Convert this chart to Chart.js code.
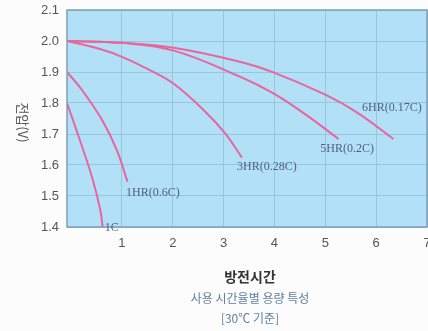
<!DOCTYPE html>
<html>
<head>
<meta charset="utf-8">
<script src="https://cdn.jsdelivr.net/npm/chart.js@4/dist/chart.umd.min.js"></script>
<style>
  html, body { margin: 0; padding: 0; background: #fcfcfc; }
  #wrap { width: 428px; height: 331px; position: relative; }
</style>
</head>
<body>
<div id="wrap"><canvas id="c" width="428" height="331"></canvas></div>
<script>
// ---- data ----
const xTickValues = [1, 2, 3, 4, 5, 6, 7];
const yTickValues = [1.4, 1.5, 1.6, 1.7, 1.8, 1.9, 2.0, 2.1];

const seriesNames = ["1C", "1HR(0.6C)", "3HR(0.28C)", "5HR(0.2C)", "6HR(0.17C)"];

const c1X = [-0.08, 0.15, 0.41, 0.575, 0.62];
const c1Y = [1.80, 1.691, 1.562, 1.455, 1.40];

const hr1X = [-0.08, 0.215, 0.61, 0.90, 1.11];
const hr1Y = [1.90, 1.842, 1.745, 1.648, 1.546];

const hr3X = [-0.08, 0.57, 1.00, 1.55, 2.02, 2.64, 3.03, 3.36];
const hr3Y = [2.00, 1.974, 1.949, 1.906, 1.862, 1.772, 1.702, 1.624];

const hr5X = [-0.08, 1.00, 2.02, 3.32, 3.98, 4.63, 5.26];
const hr5Y = [2.00, 1.994, 1.969, 1.885, 1.831, 1.761, 1.684];

const hr6X = [-0.08, 1.00, 2.02, 3.32, 3.98, 5.01, 5.62, 6.34];
const hr6Y = [2.00, 1.994, 1.978, 1.933, 1.899, 1.826, 1.770, 1.684];

// label anchor positions (data coordinates)
const labelX = [0.80, 1.61, 3.85, 5.43, 6.31];
const labelY = [1.397, 1.510, 1.594, 1.652, 1.784];

const xTitle = "방전시간";
const yTitle = "전압(V)";
const caption1 = "사용 시간율별 용량 특성";
const caption2 = "[30℃ 기준]";

// ---- build ----
const zip = (xs, ys) => xs.map((x, i) => ({ x: x, y: ys[i] }));
const curves = [zip(c1X, c1Y), zip(hr1X, hr1Y), zip(hr3X, hr3Y), zip(hr5X, hr5Y), zip(hr6X, hr6Y)];

const PINK = "#e9659c";
const datasets = curves.map((pts, i) => ({
  label: seriesNames[i],
  data: pts,
  borderColor: PINK,
  borderWidth: 2,
  pointRadius: 0,
  fill: false,
  tension: 0.4
}));

const decor = {
  id: "decor",
  beforeDraw(chart) {
    const { ctx, chartArea: a } = chart;
    ctx.save();
    ctx.fillStyle = "#b2e0f7";
    ctx.fillRect(a.left, a.top, a.right - a.left, a.bottom - a.top);
    ctx.restore();
  },
  afterDatasetsDraw(chart) {
    const { ctx, chartArea: a, scales } = chart;
    ctx.save();
    // frame
    ctx.strokeStyle = "#7f9fb5";
    ctx.lineWidth = 1.5;
    ctx.strokeRect(a.left, a.top, a.right - a.left, a.bottom - a.top);
    // curve labels
    ctx.font = '12px "Liberation Serif", "DejaVu Serif", serif';
    ctx.fillStyle = "#4f5f7e";
    ctx.textAlign = "center";
    ctx.textBaseline = "middle";
    seriesNames.forEach((n, i) => {
      ctx.fillText(n, scales.x.getPixelForValue(labelX[i]), scales.y.getPixelForValue(labelY[i]));
    });
    // y title, rotated clockwise
    ctx.save();
    ctx.translate(23, (a.top + a.bottom) / 2 + 4);
    ctx.rotate(Math.PI / 2);
    ctx.font = '13px "Noto Sans CJK KR", sans-serif';
    ctx.fillStyle = "#555";
    ctx.fillText(yTitle, 0, 0);
    ctx.restore();
    // x title and captions
    const cx = (a.left + a.right) / 2 + 3;
    ctx.font = 'bold 14px "Noto Sans CJK KR", sans-serif';
    ctx.fillStyle = "#333";
    ctx.fillText(xTitle, cx, a.bottom + 50);
    ctx.font = '12px "Noto Sans CJK KR", sans-serif';
    ctx.fillStyle = "#5f7fa0";
    ctx.fillText(caption1, cx, a.bottom + 71);
    ctx.fillText(caption2, cx, a.bottom + 91);
    ctx.restore();
  }
};

new Chart(document.getElementById("c"), {
  type: "line",
  data: { datasets: datasets },
  options: {
    responsive: false,
    animation: false,
    events: [],
    layout: { padding: { top: 10, right: 1, left: 0, bottom: 0 } },
    plugins: { legend: { display: false }, tooltip: { enabled: false } },
    scales: {
      x: {
        type: "linear",
        min: -0.08,
        max: 7,
        afterBuildTicks: s => { s.ticks = xTickValues.map(v => ({ value: v })); },
        afterFit: s => { s.height = 104; s.paddingLeft = 0; s.paddingRight = 0; },
        ticks: {
          color: "#555",
          font: { family: '"Liberation Sans", Arial, sans-serif', size: 13 },
          padding: 9,
          maxRotation: 0,
          autoSkip: false,
          callback: v => String(v)
        },
        grid: { color: "#97c6df", lineWidth: 1, drawTicks: false },
        border: { display: false }
      },
      y: {
        type: "linear",
        min: 1.4,
        max: 2.1,
        afterBuildTicks: s => { s.ticks = yTickValues.map(v => ({ value: v })); },
        afterFit: s => { s.width = 67; s.paddingTop = 0; s.paddingBottom = 0; },
        ticks: {
          color: "#555",
          font: { family: '"Liberation Sans", Arial, sans-serif', size: 13 },
          padding: 8,
          autoSkip: false,
          callback: v => Number(v).toFixed(1)
        },
        grid: { color: "#97c6df", lineWidth: 1, drawTicks: false },
        border: { display: false }
      }
    }
  },
  plugins: [decor]
});
</script>
</body>
</html>
